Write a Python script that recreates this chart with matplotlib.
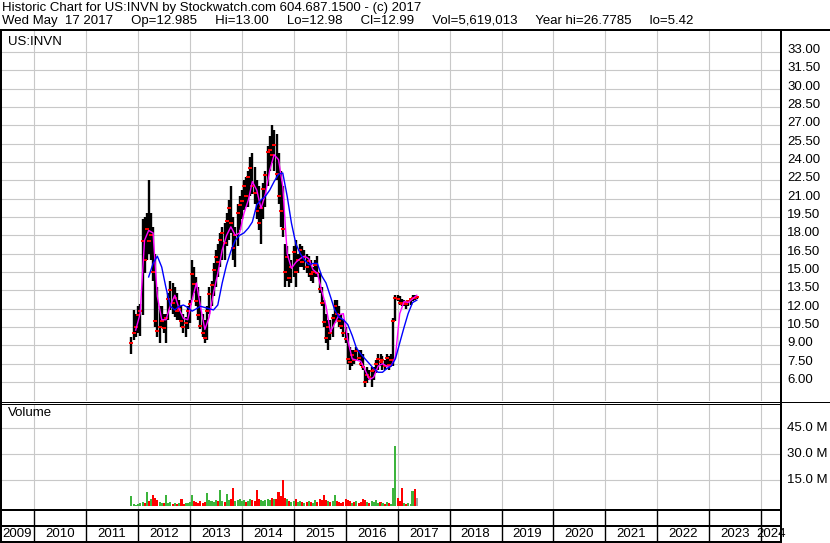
import numpy as np
import pandas as pd
import matplotlib
matplotlib.use("Agg")
import matplotlib.pyplot as plt
from matplotlib.lines import Line2D

plt.rcParams['font.family'] = ['Liberation Sans', 'DejaVu Sans']
plt.rcParams['font.size'] = 9.5

# ---- data (semi-monthly bars, Nov 2011 - May 2017) ----
highs = [9.7, 11.9, 11.6, 12.2, 12.4, 19.3, 19.5, 19.8, 22.5, 19.8,
         18.7, 16.5, 13.8, 12.2, 12.2, 11.6, 11.6, 13.3, 14.3, 14.1,
         13.8, 13.3, 12.7, 12.2, 11.6, 11.3, 12.2, 12.7, 16.0, 15.4,
         14.6, 13.8, 13.0, 11.6, 11.1, 12.2, 13.8, 14.3, 15.7, 16.8,
         17.3, 18.2, 18.7, 19.0, 19.8, 20.9, 22.0, 19.5, 18.7, 20.6,
         21.2, 21.7, 22.5, 22.8, 23.3, 24.4, 24.7, 23.6, 22.5, 22.0,
         20.9, 22.3, 23.3, 25.3, 26.1, 27.0, 26.6, 26.3, 24.7, 23.3,
         22.0, 17.3, 17.1, 16.5, 16.0, 17.1, 17.6, 16.5, 17.3, 17.1,
         16.8, 16.5, 16.3, 16.0, 15.4, 16.0, 16.3, 14.9, 13.8, 12.7,
         11.6, 11.1, 11.1, 11.6, 12.7, 12.7, 12.2, 11.6, 11.1, 10.5,
         10.0, 8.9, 8.6, 8.6, 8.9, 8.6, 8.6, 8.3, 7.0, 7.2,
         7.0, 7.2, 7.2, 7.8, 8.3, 8.3, 8.1, 7.8, 8.3, 8.1,
         8.3, 11.2, 13.1, 13.1, 13.0, 12.8, 12.7, 12.6, 12.7, 12.9,
         13.1, 13.1, 13.0]
lows = [8.3, 9.4, 9.7, 10.0, 9.8, 11.5, 14.9, 16.0, 16.5, 16.0,
        14.3, 10.5, 9.7, 9.2, 10.5, 10.0, 9.2, 11.1, 11.9, 11.6,
        11.3, 11.1, 11.1, 10.5, 10.0, 9.7, 10.3, 10.8, 12.7, 13.3,
        12.2, 11.1, 10.3, 9.7, 9.2, 9.4, 11.6, 12.2, 13.0, 13.8,
        14.6, 15.4, 16.0, 16.0, 17.1, 17.6, 18.2, 16.0, 15.4, 17.1,
        18.4, 19.3, 20.1, 20.3, 20.3, 21.2, 21.4, 20.6, 19.3, 18.4,
        17.3, 19.3, 20.3, 22.0, 23.3, 23.9, 23.3, 22.5, 20.6, 18.7,
        17.9, 13.8, 14.3, 13.8, 14.1, 14.6, 13.8, 14.9, 15.4, 15.4,
        15.2, 14.9, 14.6, 14.3, 14.1, 14.6, 14.6, 13.3, 12.2, 10.5,
        9.2, 8.6, 9.4, 9.7, 10.8, 11.1, 10.5, 10.3, 9.7, 9.2,
        7.5, 7.0, 7.3, 7.5, 7.8, 7.8, 7.3, 7.0, 5.6, 5.9,
        6.2, 5.6, 6.2, 6.7, 7.0, 7.3, 7.0, 7.0, 7.3, 7.0,
        7.3, 7.3, 11.0, 12.6, 12.3, 12.2, 12.2, 12.0, 12.2, 12.3,
        12.6, 12.7, 12.8]
closes = [9.2, 10.0, 10.5, 11.5, 11.8, 17.5, 16.0, 18.5, 17.5, 18.0,
          15.0, 11.0, 10.2, 10.5, 11.0, 10.4, 11.2, 12.8, 13.5, 12.5,
          12.9, 11.8, 12.0, 11.0, 10.5, 10.8, 11.8, 12.4, 14.8, 14.0,
          12.6, 11.5, 10.6, 10.0, 9.6, 11.8, 13.2, 13.9, 15.2, 16.2,
          15.8, 17.6, 18.2, 17.4, 19.2, 20.2, 19.0, 17.0, 18.0, 19.8,
          20.5, 20.8, 22.0, 21.2, 22.8, 23.5, 22.0, 21.5, 20.0, 19.0,
          20.2, 21.8, 22.9, 24.8, 25.0, 24.6, 25.4, 23.0, 21.2, 20.0,
          18.5, 15.0, 16.2, 14.5, 15.4, 16.6, 15.0, 16.0, 16.8, 15.8,
          16.2, 15.4, 15.9, 14.8, 15.0, 15.6, 14.9, 13.6, 12.5, 10.9,
          9.6, 10.5, 10.0, 11.2, 12.2, 11.6, 11.0, 10.6, 10.0, 9.5,
          7.9, 7.6, 8.2, 7.8, 8.5, 8.0, 7.5, 7.2, 6.0, 6.6,
          6.4, 6.9, 7.0, 7.5, 7.9, 7.6, 7.8, 7.3, 8.0, 7.4,
          7.8, 11.0, 12.9, 12.8, 12.5, 12.4, 12.5, 12.4, 12.6, 12.8,
          12.9, 12.85, 12.99]
volume_m = [5.9, 1.2, 1.0, 1.5, 2.0, 2.5, 2.0, 8.2, 3.0, 4.0,
            6.3, 5.0, 3.5, 2.5, 2.0, 1.8, 6.3, 2.0, 2.5, 1.5,
            2.0, 1.5, 2.0, 4.3, 1.5, 1.8, 2.0, 2.5, 6.3, 3.0,
            2.5, 2.0, 3.0, 2.0, 2.5, 7.5, 3.5, 3.0, 2.5, 3.5,
            3.0, 9.5, 3.0, 2.5, 7.0, 3.5, 4.0, 10.4, 3.0, 3.5,
            4.5, 3.0, 3.5, 2.5, 3.0, 4.0, 3.5, 3.0, 9.5, 4.0,
            3.5, 3.0, 3.5, 4.5, 3.5, 5.0, 4.0, 4.5, 8.4, 6.0,
            15.0, 5.0, 4.0, 3.0, 2.5, 3.0, 4.0, 2.5, 3.0, 2.5,
            2.0, 2.5, 3.0, 2.5, 2.0, 3.5, 2.5, 4.0, 3.5, 6.8,
            3.5, 3.0, 2.5, 3.0, 6.3, 3.0, 2.5, 2.0, 2.5, 4.5,
            3.5, 3.0, 2.0, 2.5, 3.0, 2.0, 2.5, 4.5, 3.5, 2.5,
            2.0, 3.0, 2.5, 3.8, 2.0, 2.5, 2.0, 1.5, 2.5, 2.0,
            1.5, 10.4, 35.0, 5.0, 3.0, 10.7, 2.0, 1.5, 2.0, 1.5,
            9.0, 10.0, 4.6]
# moving averages, read monthly (every other bar)
ma_short = [np.nan, 10.25, 11.6, 17.6, 18.4, 18.2, 13.0, 11.1, 11.1, 12.3,
            13.1, 12.0, 11.2, 11.1, 12.7, 14.1, 12.2, 10.3, 11.3, 13.3,
            14.9, 16.8, 18.0, 18.7, 18.0, 18.2, 19.8, 20.9, 22.4, 21.7,
            20.2, 21.4, 23.3, 24.6, 24.2, 22.0, 16.5, 15.3, 15.8, 16.1,
            16.3, 16.1, 15.2, 14.9, 13.5, 12.2, 10.1, 10.8, 11.5, 11.6,
            9.4, 7.9, 7.8, 7.7, 7.0, 6.2, 6.4, 7.3, 7.5, 7.3,
            7.3, 8.1, 11.6, 12.6, 12.5, 12.8, 13.1]
ma_long = [np.nan, np.nan, np.nan, np.nan, 14.6, 15.7, 16.3, 15.4, 13.7, 12.2,
           11.9, 12.2, 12.3, 12.1, 11.8, 12.0, 12.2, 12.1, 12.0, 11.9,
           12.3, 14.1, 15.6, 16.7, 17.6, 18.0, 18.2, 18.6, 19.1, 20.5,
           20.9, 21.2, 21.7, 22.4, 23.0, 23.1, 21.2, 19.0, 17.3, 16.5,
           16.0, 15.6, 15.7, 15.7, 14.7, 14.1, 13.0, 11.9, 11.3, 11.1,
           10.7, 9.8, 8.8, 8.3, 7.9, 7.5, 7.1, 6.8, 6.8, 7.1,
           7.3, 7.9, 9.2, 10.5, 11.6, 12.5, 12.7]
price_ticks = [6.0, 7.5, 9.0, 10.5, 12.0, 13.5, 15.0, 16.5, 18.0, 19.5,
               21.0, 22.5, 24.0, 25.5, 27.0, 28.5, 30.0, 31.5, 33.0]
vol_ticks = [15.0, 30.0, 45.0]
years = list(range(2009, 2025))

header1 = "Historic Chart for US:INVN by Stockwatch.com 604.687.1500 - (c) 2017"
header2 = ("Wed May  17 2017     Op=12.985     Hi=13.00     Lo=12.98     Cl=12.99     "
           "Vol=5,619,013     Year hi=26.7785     lo=5.42")

dates = pd.date_range("2011-11-15", periods=len(highs), freq="SMS")
t = np.array(dates.year + (dates.dayofyear - 1) / 365.25)
t_ma = t[::2]

W, H = 830, 543
fig = plt.figure(figsize=(W / 100, H / 100), dpi=100)


def px_rect(x0, y0, x1, y1):
    return [x0 / W, 1 - y1 / H, (x1 - x0) / W, (y1 - y0) / H]


def fig_line(x0, y0, x1, y1, lw):
    fig.add_artist(Line2D([x0 / W, x1 / W], [1 - y0 / H, 1 - y1 / H], lw=lw * 0.72,
                          color="black", transform=fig.transFigure,
                          solid_capstyle="butt"))


xlim = (2010 - 34.3 / 51.92, 2010 + (781 - 34.3) / 51.92)
grid_c = "#c8c8c8"

# ---- price panel ----
ax = fig.add_axes(px_rect(0, 30, 781, 401))
ax.set_xlim(xlim)
ax.set_ylim(4.45, 34.8)
ax.axis("off")
for yv in range(2010, 2025):
    ax.axvline(yv, color=grid_c, lw=0.8, zorder=0)
for v in price_ticks:
    ax.axhline(v, color=grid_c, lw=0.8, zorder=0)
    ax.annotate("%.2f" % v, xy=(1.0, v), xycoords=("axes fraction", "data"),
                xytext=(6, 2), textcoords="offset pixels", va="center", ha="left",
                annotation_clip=False)
ax.vlines(t, lows, highs, color="black", lw=1.7, zorder=2)
ax.plot(t, closes, ls="none", marker="_", ms=2.5, mew=1.4, color="red", zorder=3)
ax.plot(t_ma, ma_short, color="#ff00ff", lw=1.0, zorder=4)
ax.plot(t_ma, ma_long, color="#0000ff", lw=1.0, zorder=4)
ax.annotate("US:INVN", xy=(0, 1), xycoords="axes fraction", xytext=(8, -12),
            textcoords="offset pixels", va="center", ha="left")

# ---- volume panel ----
axv = fig.add_axes(px_rect(0, 403.5, 781, 510))
axv.set_xlim(xlim)
axv.set_ylim(-2.1, 59.3)
axv.axis("off")
for yv in range(2010, 2025):
    axv.axvline(yv, color=grid_c, lw=0.8, zorder=0)
for v in vol_ticks:
    axv.axhline(v, color=grid_c, lw=0.8, zorder=0)
    axv.annotate("%.1f M" % v, xy=(1.0, v), xycoords=("axes fraction", "data"),
                 xytext=(6, 0), textcoords="offset pixels", va="center", ha="left",
                 annotation_clip=False)
colors = ["#3cb43c"]
for i in range(1, len(closes)):
    colors.append("#3cb43c" if closes[i] >= closes[i - 1] else "#ff0000")
colors[-1] = "#a0a0a0"
axv.bar(t, volume_m, width=1 / 24 * 0.95, color=colors, zorder=2,
        linewidth=0, antialiased=False)
axv.annotate("Volume", xy=(0, 1), xycoords="axes fraction", xytext=(8, -10),
             textcoords="offset pixels", va="center", ha="left")

# ---- year strip ----
axx = fig.add_axes(px_rect(0, 510, 781, 542))
axx.set_xlim(xlim)
axx.set_ylim(0, 1)
axx.axis("off")
for yv in range(2010, 2025):
    axx.axvline(yv, color="black", lw=1.0)
for yv in years:
    a = max(yv, xlim[0])
    b = min(yv + 1, xlim[1])
    axx.text((a + b) / 2, 0.25, str(yv), ha="center", va="center")

# ---- frame lines ----
fig_line(0, 30, 830, 30, 2)
fig_line(1, 29, 1, 543, 2)
fig_line(781, 29, 781, 543, 2)
fig_line(0, 401.5, 830, 401.5, 1)
fig_line(0, 403.8, 781, 403.8, 1)
fig_line(0, 510, 781, 510, 2)
fig_line(0, 526, 781, 526, 2)
fig_line(0, 542, 781, 542, 2)

fig.text(2 / W, 1 - 8 / H, header1, ha="left", va="center")
fig.text(2 / W, 1 - 21 / H, header2, ha="left", va="center")

fig.savefig("out.png", dpi=100)
